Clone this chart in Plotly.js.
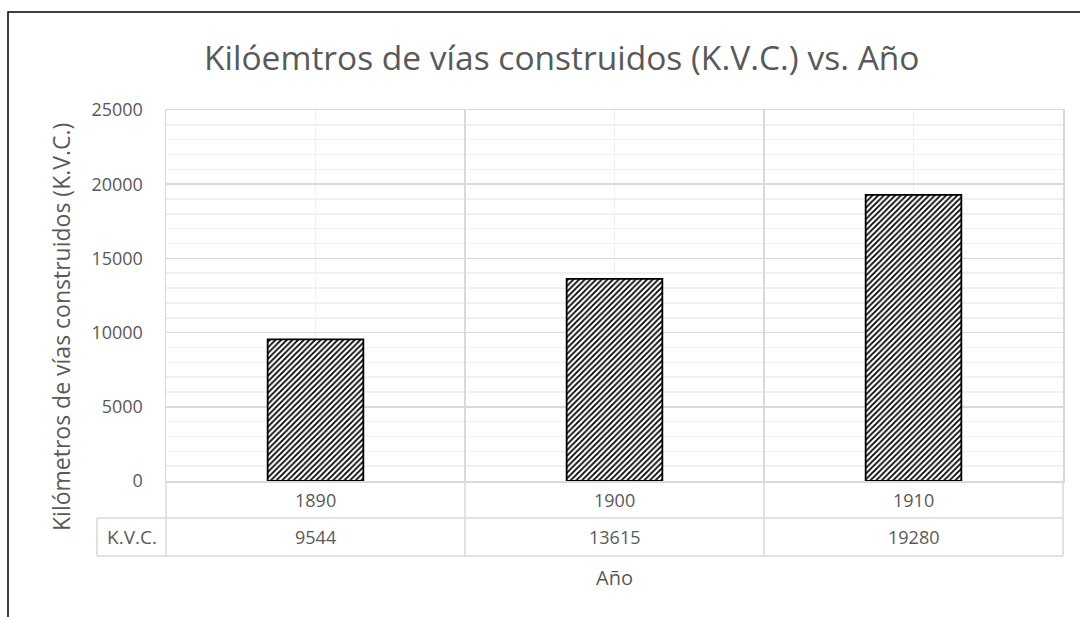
<!DOCTYPE html>
<html>
<head>
<meta charset="utf-8">
<script src="https://cdn.plot.ly/plotly-3.0.1.min.js"></script>
<style>html,body{margin:0;padding:0;background:#fff;}#chart{width:1080px;height:617px;}</style>
</head>
<body>
<div id="chart"></div>
<script>
const categories = ["1890", "1900", "1910"];
const kvcValues = [9544, 13615, 19280];
const seriesName = "K.V.C.";
const chartTitle = "Kilóemtros de vías construidos (K.V.C.) vs. Año";
const yTitle = "Kilómetros de vías construidos (K.V.C.)";
const xTitle = "Año";

const W = 1080, H = 617;
const L = 166, R = 1063, T = 110, B = 481;
const pw = R - L, ph = B - T;
const px = x => (x - L) / pw;
const py = y => (B - y) / ph;
const FONT = "Open Sans, sans-serif";
const TXT = "#595959";
const GRID = "#d9d9d9";
const xs = categories.map((c, i) => i);

const trace = {
  type: "bar",
  x: xs,
  y: kvcValues,
  name: seriesName,
  width: 0.32,
  marker: {
    color: "#ffffff",
    line: {color: "#000000", width: 1.8},
    pattern: {shape: "/", fgcolor: "#000000", bgcolor: "#ffffff", size: 4, solidity: 0.45}
  },
  hoverinfo: "skip"
};

const annotations = [];
annotations.push({xref: "paper", yref: "paper", x: px(562), y: py(57), text: chartTitle, showarrow: false,
  font: {family: FONT, size: 33.5, color: TXT}, xanchor: "center", yanchor: "middle"});
annotations.push({xref: "paper", yref: "paper", x: px(61), y: py(327), text: yTitle, showarrow: false, textangle: -90,
  font: {family: FONT, size: 23, color: TXT}, xanchor: "center", yanchor: "middle"});
annotations.push({xref: "paper", yref: "paper", x: px(614), y: py(577), text: xTitle, showarrow: false,
  font: {family: FONT, size: 20, color: TXT}, xanchor: "center", yanchor: "middle"});
categories.forEach((c, i) => {
  annotations.push({xref: "x", yref: "paper", x: xs[i], y: py(500), text: c, showarrow: false,
    font: {family: FONT, size: 18, color: TXT}, xanchor: "center", yanchor: "middle"});
  annotations.push({xref: "x", yref: "paper", x: xs[i], y: py(537), text: String(kvcValues[i]), showarrow: false,
    font: {family: FONT, size: 18, color: TXT}, xanchor: "center", yanchor: "middle"});
});
annotations.push({xref: "paper", yref: "paper", x: px(131.5), y: py(537), text: seriesName, showarrow: false,
  font: {family: FONT, size: 19, color: TXT}, xanchor: "center", yanchor: "middle"});

const shapes = [];
const ln = (x0, y0, x1, y1, color, width) => shapes.push({type: "line", xref: "paper", yref: "paper",
  x0: px(x0), y0: py(y0), x1: px(x1), y1: py(y1), line: {color: color, width: width}, layer: "above"});
ln(97, 518, R, 518, GRID, 1.5);
ln(97, 556, R, 556, GRID, 1.5);
ln(97, 518, 97, 556, GRID, 1.5);
ln(L, 481, L, 556, GRID, 1.5);
ln(R, 481, R, 556, GRID, 1.5);
xs.slice(1).forEach(v => shapes.push({type: "line", xref: "x", yref: "paper", x0: v - 0.5, x1: v - 0.5,
  y0: py(481), y1: py(556), line: {color: GRID, width: 1.5}}));
shapes.push({type: "rect", xref: "paper", yref: "paper", x0: px(8), y0: py(12), x1: px(1100), y1: py(640),
  line: {color: "#000000", width: 1.5}, fillcolor: "rgba(0,0,0,0)", layer: "above"});

const layout = {
  width: W, height: H,
  margin: {l: L, r: W - R, t: T, b: H - B, pad: 0},
  paper_bgcolor: "#ffffff", plot_bgcolor: "#ffffff",
  showlegend: false,
  xaxis: {
    range: [-0.5, 2.5], tick0: -0.5, dtick: 1, showticklabels: false, ticks: "",
    showgrid: true, gridcolor: GRID, gridwidth: 1.5, zeroline: false,
    showline: true, mirror: true, linecolor: GRID, linewidth: 1.5,
    minor: {tick0: 0, dtick: 1, showgrid: true, gridcolor: "#f0f0f0", gridwidth: 1.5, ticks: ""},
    fixedrange: true
  },
  yaxis: {
    range: [0, 25000], tick0: 0, dtick: 5000, ticks: "", ticklabelstandoff: 18, tickformat: "d",
    tickfont: {family: FONT, size: 18, color: TXT},
    showgrid: true, gridcolor: GRID, gridwidth: 1.5, zeroline: false,
    showline: true, mirror: true, linecolor: GRID, linewidth: 1.5,
    minor: {dtick: 1000, showgrid: true, gridcolor: "#f0f0f0", gridwidth: 1.5, ticks: ""},
    fixedrange: true
  },
  annotations: annotations,
  shapes: shapes
};

Plotly.newPlot("chart", [trace], layout, {displayModeBar: false, staticPlot: true});
</script>
</body>
</html>
